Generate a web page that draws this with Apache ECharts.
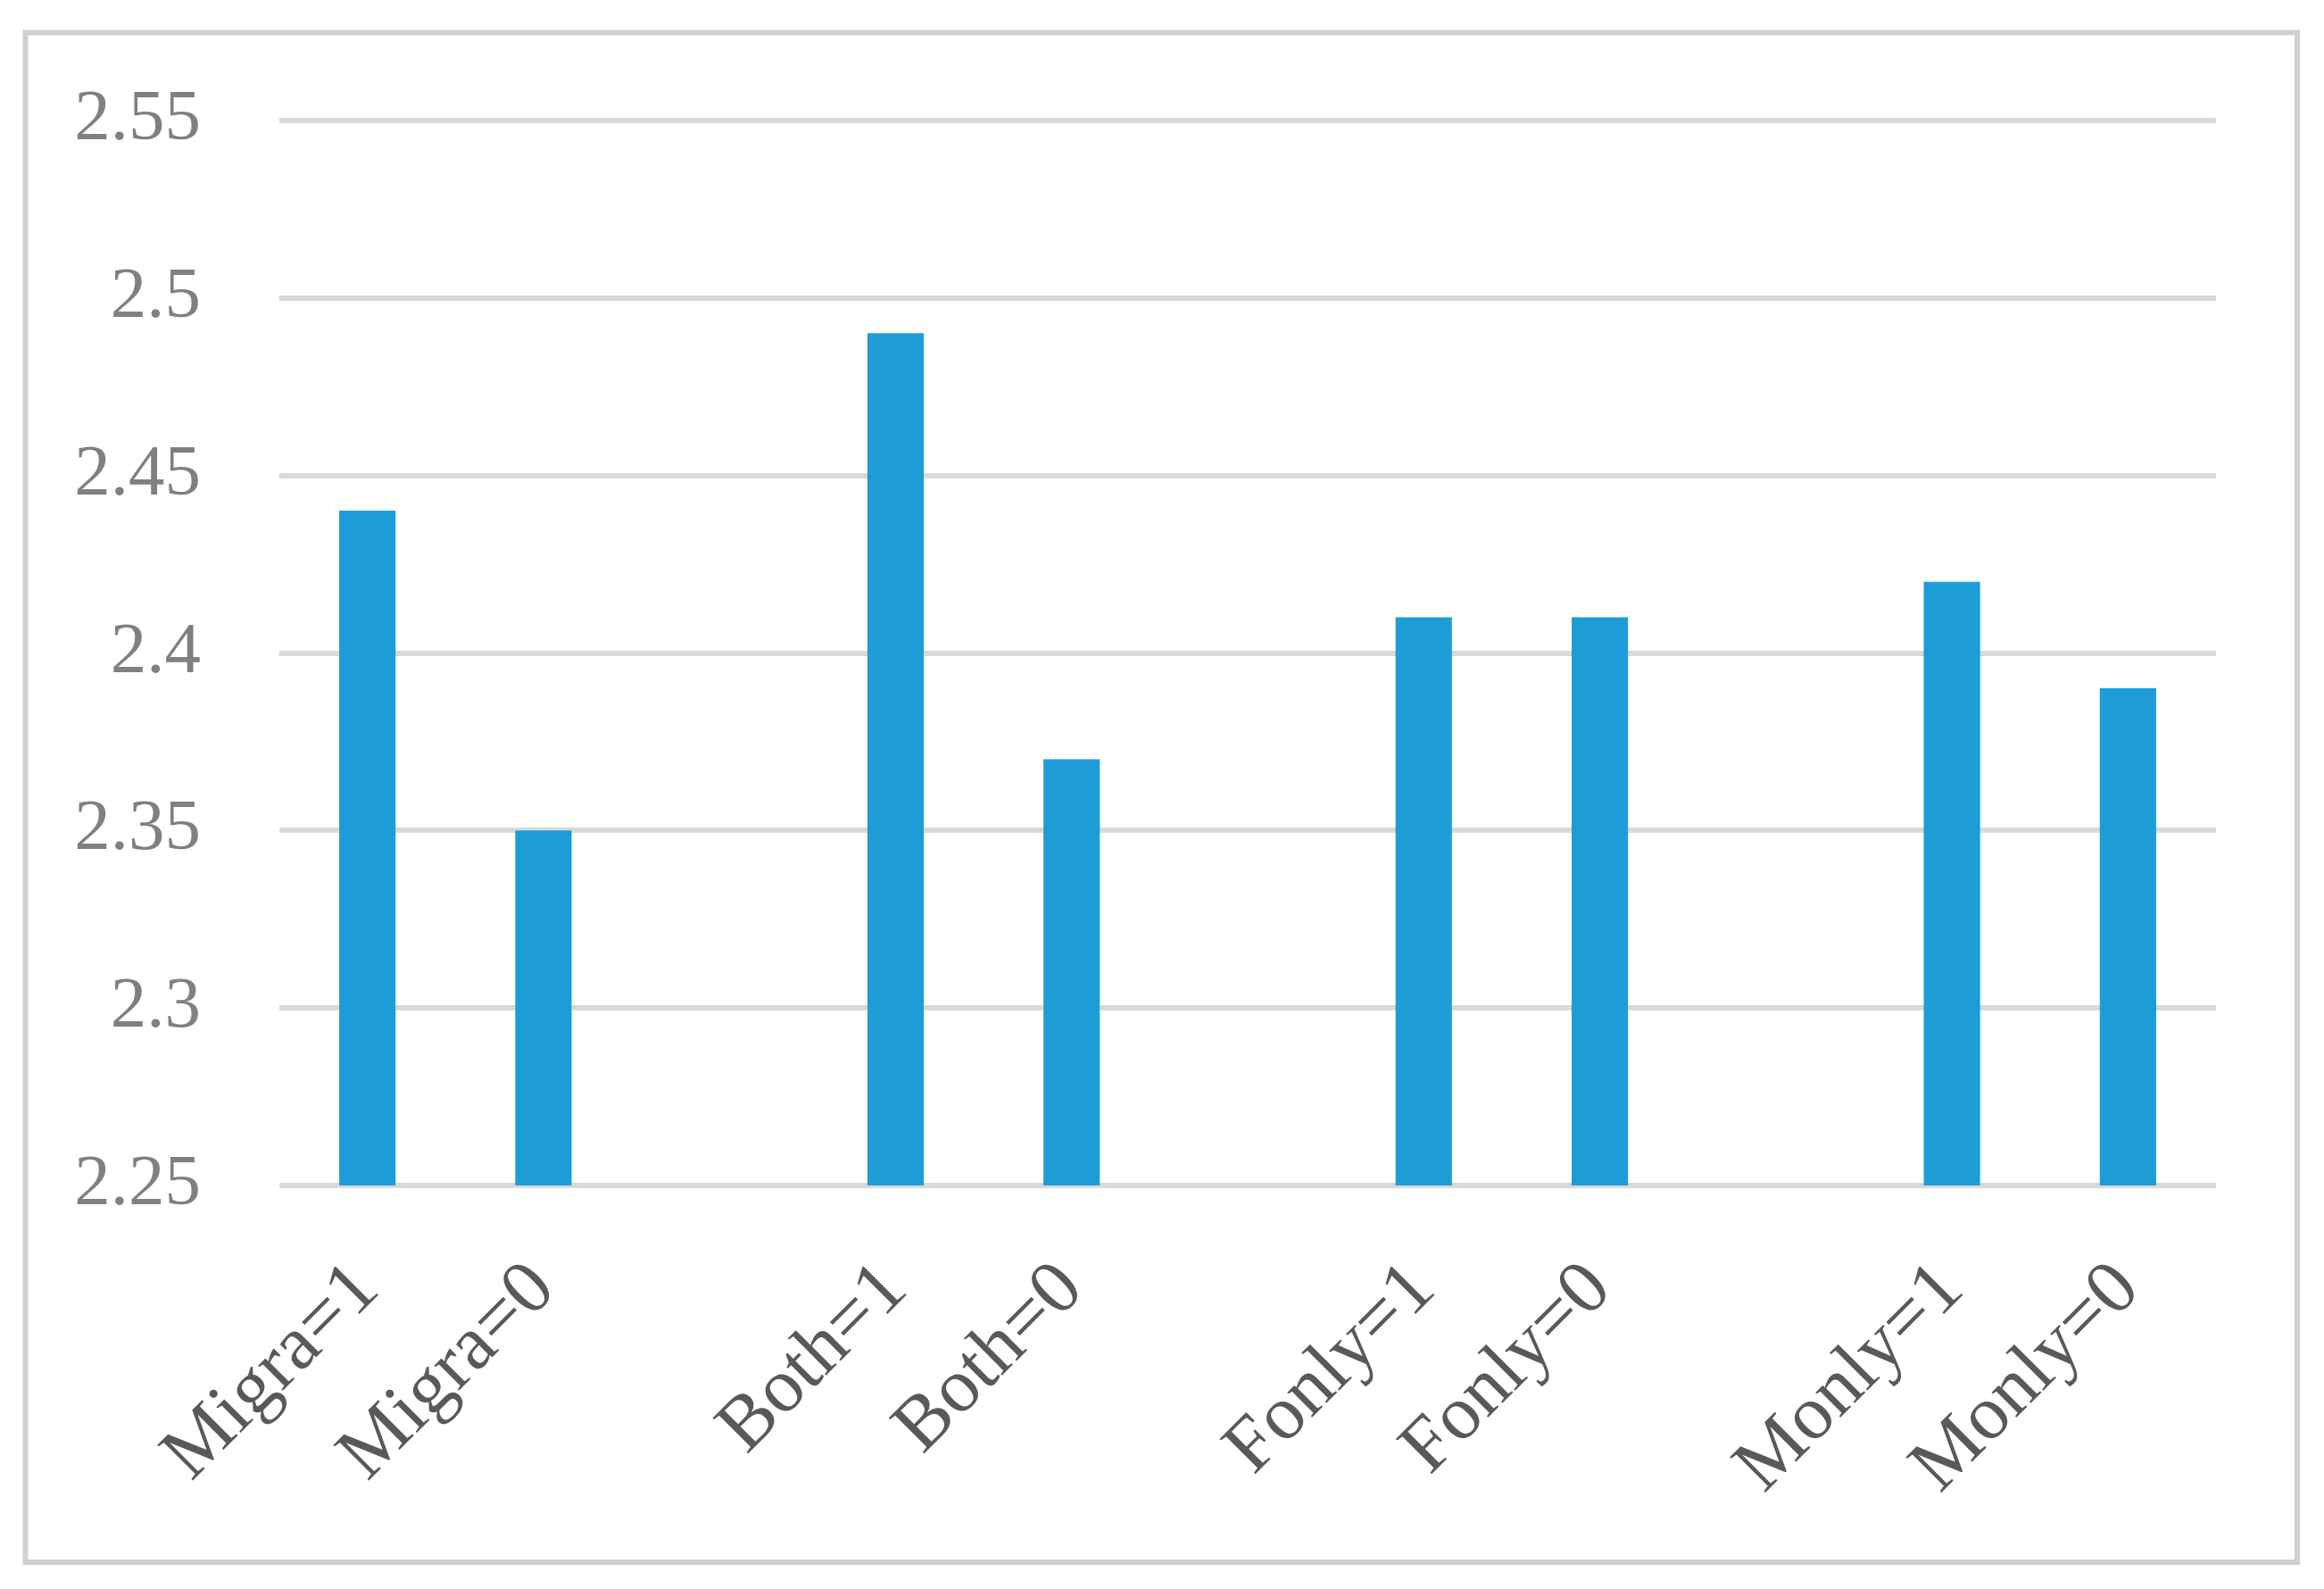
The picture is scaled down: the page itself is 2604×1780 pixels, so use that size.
<!DOCTYPE html>
<html>
<head>
<meta charset="utf-8">
<script src="https://cdn.jsdelivr.net/npm/echarts@6/dist/echarts.min.js"></script>
<style>
    html, body { margin: 0; padding: 0; background: #fff; }
    #chart { width: 2604px; height: 1780px; }
</style>
</head>
<body>
<div id="chart"></div>
<script>
// categories (empty ones are the gaps between groups)
var categories = ['Migra=1', 'Migra=0', '', 'Both=1', 'Both=0', '', 'Fonly=1', 'Fonly=0', '', 'Monly=1', 'Monly=0'];
var values = [2.44, 2.35, null, 2.49, 2.37, null, 2.41, 2.41, null, 2.42, 2.39];
var yMin = 2.25;
var yMax = 2.55;
var yStep = 0.05;

var chart = echarts.init(document.getElementById('chart'));

var option = {
    backgroundColor: '#fff',
    animation: false,
    grid: {
        left: 313,
        right: 121,
        top: 134.5,
        bottom: 452
    },
    graphic: [
        {
            type: 'rect',
            shape: { x: 28.5, y: 36.5, width: 2545.5, height: 1713.5 },
            style: { fill: 'none', stroke: '#d0d0d0', lineWidth: 6 },
            silent: true
        }
    ],
    xAxis: {
        type: 'category',
        data: categories,
        axisLine: { show: false },
        axisTick: { show: false },
        axisLabel: {
            interval: 0,
            rotate: 45,
            margin: 103,
            color: '#595959',
            fontFamily: 'Liberation Serif',
            fontSize: 86
        }
    },
    yAxis: {
        type: 'value',
        min: yMin,
        max: yMax,
        interval: yStep,
        axisLine: { show: false },
        axisTick: { show: false },
        splitLine: { lineStyle: { color: '#d9d9d9', width: 6 } },
        axisLabel: {
            margin: 88,
            color: '#808080',
            fontFamily: 'Liberation Serif',
            fontSize: 81,
            formatter: function (v) { return String(+v.toFixed(2)); }
        }
    },
    series: [
        {
            type: 'bar',
            data: values,
            barWidth: '32%',
            itemStyle: { color: '#1e9cd8' }
        }
    ]
};
chart.setOption(option);
</script>
</body>
</html>
